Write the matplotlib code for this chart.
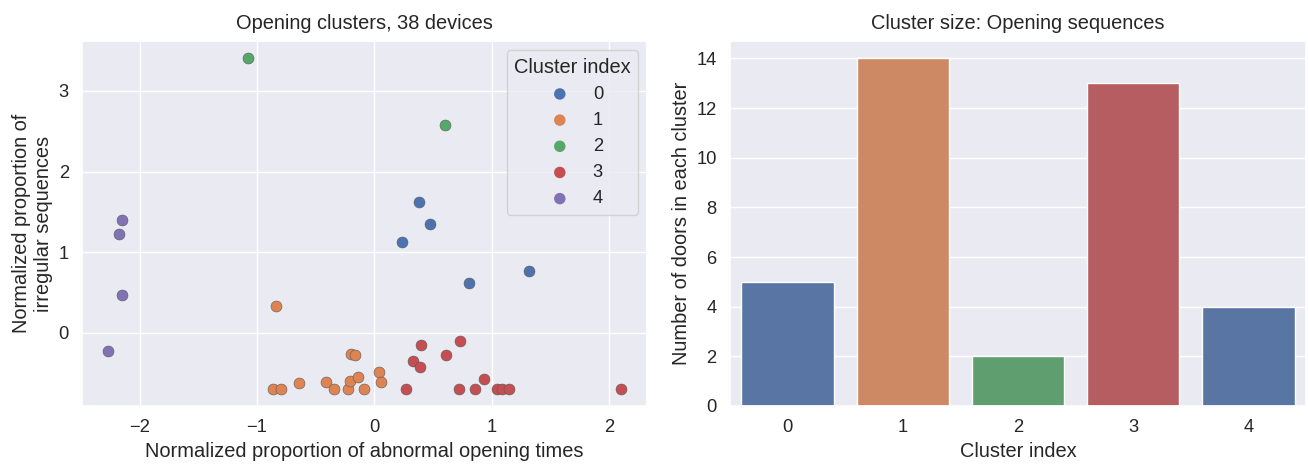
import matplotlib
matplotlib.use("Agg")
import matplotlib.pyplot as plt
import numpy as np
import pandas as pd
import seaborn as sns

# Normalized features per device, grouped by assigned cluster
cluster0_x = [0.376, 0.473, 0.237, 0.806, 1.313]
cluster0_y = [1.624, 1.353, 1.127, 0.615, 0.763]

cluster1_x = [-0.839, -0.196, -0.167, -0.868, -0.794, -0.643, -0.410,
              -0.344, -0.225, -0.210, -0.139, -0.091, 0.043, 0.060]
cluster1_y = [0.336, -0.267, -0.279, -0.701, -0.701, -0.620, -0.615,
              -0.701, -0.701, -0.595, -0.546, -0.701, -0.488, -0.615]

cluster2_x = [-1.074, 0.600]
cluster2_y = [3.413, 2.583]

cluster3_x = [0.268, 0.328, 0.385, 0.399, 0.606, 0.732, 0.717,
              0.854, 0.931, 1.042, 1.085, 1.150, 2.104]
cluster3_y = [-0.701, -0.344, -0.423, -0.148, -0.271, -0.098, -0.701,
              -0.701, -0.578, -0.701, -0.701, -0.701, -0.701]

cluster4_x = [-2.146, -2.173, -2.149, -2.272]
cluster4_y = [1.395, 1.221, 0.470, -0.223]

cluster_ids = [0, 1, 2, 3, 4]
cluster_sizes = [5, 14, 2, 13, 4]

xs = [cluster0_x, cluster1_x, cluster2_x, cluster3_x, cluster4_x]
ys = [cluster0_y, cluster1_y, cluster2_y, cluster3_y, cluster4_y]

sns.set_theme(style="darkgrid")
plt.rcParams["font.family"] = ["Liberation Sans", "DejaVu Sans"]

LABEL_FS = 14.4
TICK_FS = 13.2

palette = sns.color_palette("deep")
bar_colors = [palette[0], palette[1], palette[2], palette[3], palette[0]]

fig = plt.figure(figsize=(13.08, 4.66), dpi=100)
ax1 = fig.add_axes([0.0627, 0.1288, 0.4320, 0.7830])
ax2 = fig.add_axes([0.558, 0.1288, 0.4405, 0.7830])

# Scatter of devices coloured by cluster
for cid, x, y in zip(cluster_ids, xs, ys):
    ax1.scatter(x, y, s=62, color=palette[cid], edgecolor="0.35",
                linewidth=0.4, label=str(cid), zorder=3)
ax1.set_title("Opening clusters, 38 devices", fontsize=LABEL_FS, pad=9)
ax1.set_xlabel("Normalized proportion of abnormal opening times",
               fontsize=LABEL_FS)
ax1.set_ylabel("Normalized proportion of\nirregular sequences",
               fontsize=LABEL_FS)
ax1.tick_params(labelsize=TICK_FS)
ax1.set_xticks([-2, -1, 0, 1, 2])
ax1.set_yticks([0, 1, 2, 3])
leg = ax1.legend(title="Cluster index", loc="upper right", fontsize=TICK_FS,
                 title_fontsize=LABEL_FS, markerscale=1.05)
for h in leg.legend_handles:
    h.set_edgecolor("none")

# Bar chart of cluster sizes
df = pd.DataFrame({"cluster": [str(c) for c in cluster_ids],
                   "size": cluster_sizes})
sns.barplot(data=df, x="cluster", y="size", hue="cluster",
            palette=bar_colors, legend=False, ax=ax2, saturation=0.75)
ax2.set_title("Cluster size: Opening sequences", fontsize=LABEL_FS, pad=9)
ax2.set_xlabel("Cluster index", fontsize=LABEL_FS)
ax2.set_ylabel("Number of doors in each cluster", fontsize=LABEL_FS)
ax2.tick_params(labelsize=TICK_FS)
ax2.set_yticks([0, 2, 4, 6, 8, 10, 12, 14])

fig.savefig("out.png", dpi=100)
